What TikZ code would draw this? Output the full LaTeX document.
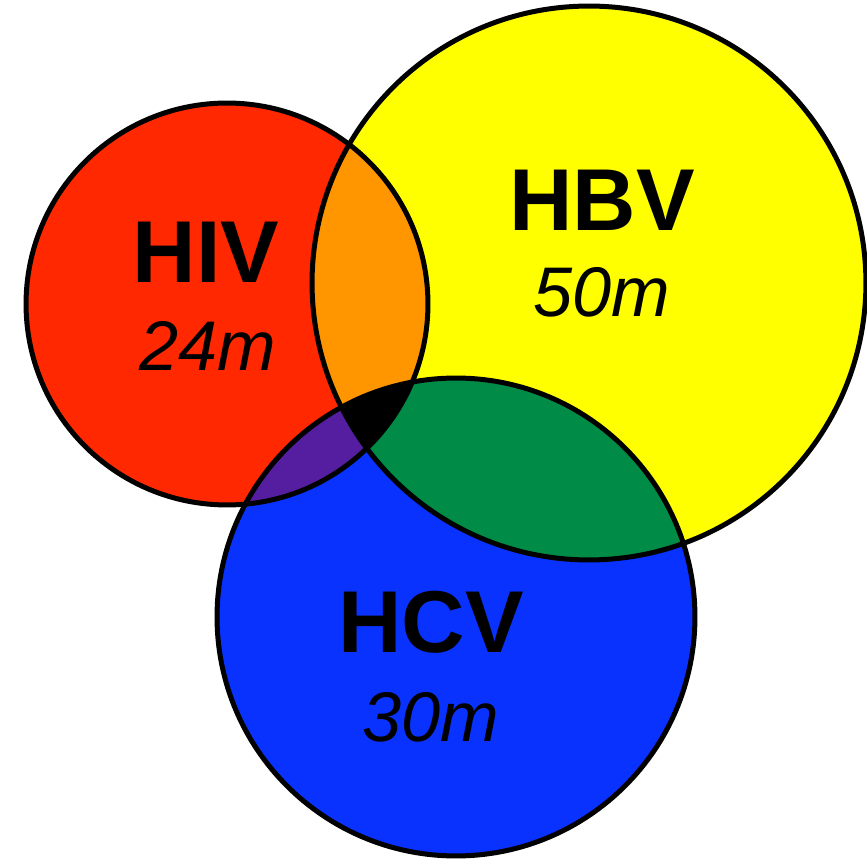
\documentclass[tikz,border=0pt]{standalone}
\usepackage{fontspec}
\setsansfont{Liberation Sans}
\usepackage{xcolor}
\definecolor{hivred}{RGB}{255, 40, 0}
\definecolor{hbvyellow}{RGB}{255, 255, 0}
\definecolor{hcvblue}{RGB}{10, 50, 255}
\definecolor{mixorange}{RGB}{255, 150, 0}
\definecolor{mixgreen}{RGB}{0, 140, 70}
\definecolor{mixpurple}{RGB}{85, 30, 160}
\newcommand{\rhiv}{4.02cm}
\newcommand{\rhbv}{5.54cm}
\newcommand{\rhcv}{4.78cm}

\begin{document}
\begin{tikzpicture}[
				x=0.02cm, y=-0.02cm,
				ring/.style={draw=black, line width=0.1cm},
				virus/.style={inner sep=0pt,
					font=\sffamily\bfseries\fontsize{50}{50}\selectfont},
				count/.style={inner sep=0pt,
					font=\sffamily\itshape\fontsize{40}{40}\selectfont}
				]
				\useasboundingbox (0,0) rectangle (867,861);
				\coordinate (hiv) at (227,304);
				\coordinate (hbv) at (589,283);
				\coordinate (hcv) at (456,617);
				% one set each
				\fill[hivred] (hiv) circle (\rhiv);
				\fill[hbvyellow] (hbv) circle (\rhbv);
				\fill[hcvblue] (hcv) circle (\rhcv);
				% overlaps
				\begin{scope}
					\clip (hbv) circle (\rhbv);
					\fill[mixgreen] (hcv) circle (\rhcv);
				\end{scope}
				\begin{scope}
					\clip (hiv) circle (\rhiv);
					\fill[mixorange] (hbv) circle (\rhbv);
					\fill[mixpurple] (hcv) circle (\rhcv);
					\clip (hbv) circle (\rhbv);
					\fill[black] (hcv) circle (\rhcv);
				\end{scope}
				\draw[ring] (hiv) circle (\rhiv);
				\draw[ring] (hbv) circle (\rhbv);
				\draw[ring] (hcv) circle (\rhcv);
				% labels
				\node[virus] (hivname) at (206,252) {HIV};
				\node[count] (hivcount) at (208,346) {24m};
				\node[virus] (hbvname) at (602,200) {HBV};
				\node[count] (hbvcount) at (602,292) {50m};
				\node[virus] (hcvname) at (431,622) {HCV};
				\node[count] (hcvcount) at (431,717) {30m};
			\end{tikzpicture}
\end{document}
